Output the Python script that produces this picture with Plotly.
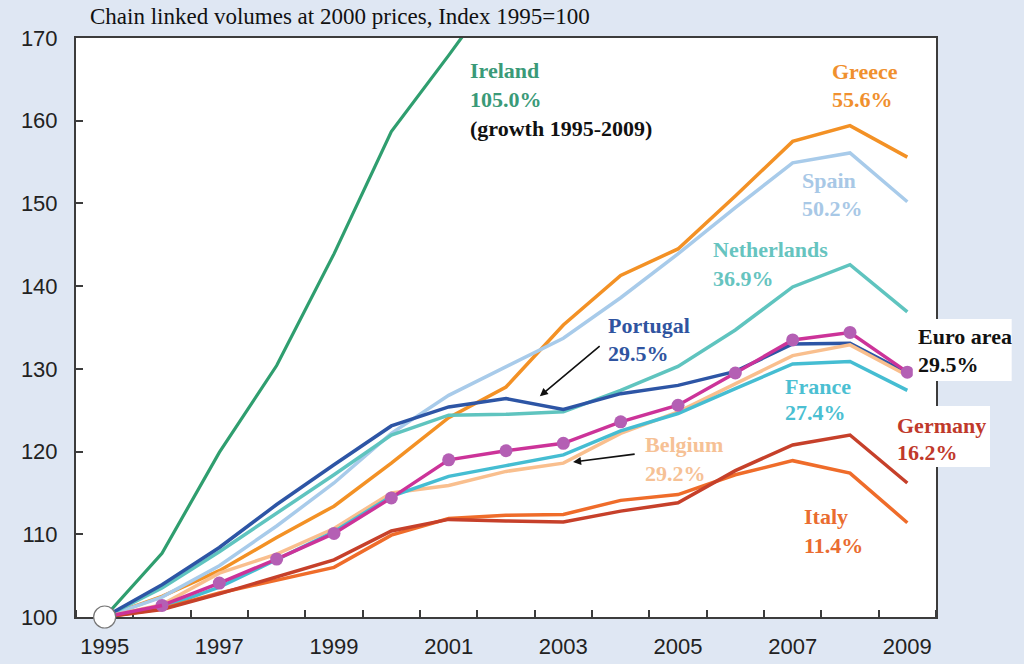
import plotly.graph_objects as go

years = list(range(1995, 2010))
ireland = [100, 107.7, 119.9, 130.4, 143.9, 158.7, 167.9, 177.4, 184.6, 192.6, 203.4, 214.6, 226.5, 218.2, 205.0]
greece = [100, 102.5, 105.6, 109.6, 113.4, 118.6, 124.1, 127.8, 135.3, 141.3, 144.5, 150.9, 157.5, 159.4, 155.6]
spain = [100, 102.4, 106.2, 111.0, 116.2, 122.2, 126.8, 130.2, 133.7, 138.6, 143.9, 149.5, 154.9, 156.1, 150.2]
netherlands = [100, 103.5, 107.9, 112.5, 117.2, 122.0, 124.4, 124.5, 124.8, 127.4, 130.3, 134.7, 139.9, 142.6, 136.9]
portugal = [100, 103.9, 108.4, 113.6, 118.4, 123.1, 125.4, 126.4, 125.1, 127.0, 128.0, 129.7, 133.0, 133.1, 129.5]
belgium = [100, 101.5, 105.3, 107.6, 110.7, 115.0, 115.9, 117.6, 118.6, 122.2, 124.8, 128.2, 131.6, 132.9, 129.2]
france = [100, 101.1, 103.6, 106.9, 110.3, 114.6, 117.0, 118.3, 119.6, 122.5, 124.6, 127.6, 130.6, 130.9, 127.4]
italy = [100, 101.0, 102.9, 104.5, 106.0, 109.9, 111.9, 112.3, 112.4, 114.1, 114.8, 117.2, 118.9, 117.4, 111.4]
germany = [100, 100.9, 102.8, 104.8, 106.9, 110.4, 111.8, 111.6, 111.5, 112.8, 113.8, 117.7, 120.8, 122.0, 116.2]
euro_area = [100, 101.4, 104.1, 107.0, 110.1, 114.4, 119.0, 120.1, 121.0, 123.6, 125.6, 129.5, 133.5, 134.4, 129.6]

x_tick_years = [1995, 1997, 1999, 2001, 2003, 2005, 2007, 2009]
y_ticks = [100, 110, 120, 130, 140, 150, 160, 170]
title_text = "Chain linked volumes at 2000 prices, Index 1995=100"

series = [
    ("Ireland", ireland, "#2f9e6f", 3.2),
    ("Greece", greece, "#f39125", 3.5),
    ("Spain", spain, "#a8cbea", 3.5),
    ("Netherlands", netherlands, "#5fc4bf", 3.5),
    ("Portugal", portugal, "#2d55a5", 3.5),
    ("Belgium", belgium, "#f9bf8e", 3.5),
    ("France", france, "#45bdd2", 3.5),
    ("Italy", italy, "#ef6c2a", 3.5),
    ("Germany", germany, "#c6402a", 3.5),
]

fig = go.Figure()
for name, vals, col, w in series:
    fig.add_trace(go.Scatter(x=years, y=vals, mode="lines", name=name,
                             line=dict(color=col, width=w), showlegend=False))

fig.add_trace(go.Scatter(x=years[1:], y=euro_area[1:], mode="lines+markers", name="Euro area",
                         line=dict(color="#cc3399", width=3.5),
                         marker=dict(color="#b45fb4", size=13, line=dict(width=0)),
                         showlegend=False))
fig.add_trace(go.Scatter(x=years[:2], y=euro_area[:2], mode="lines",
                         line=dict(color="#cc3399", width=3.5), showlegend=False))
fig.add_trace(go.Scatter(x=[years[0]], y=[euro_area[0]], mode="markers", cliponaxis=False,
                         marker=dict(color="white", size=22, line=dict(color="#777777", width=1.2)),
                         showlegend=False))

LF = "Liberation Serif"
def lab(x, y, text, color, size=22):
    fig.add_annotation(x=x, y=y, xref="x", yref="y", text=text, showarrow=False,
                       xanchor="left", yanchor="middle",
                       font=dict(family=LF, size=size, color=color, weight="bold"))

lab(2001.34, 166.1, "Ireland", "#3a9a78")
lab(2001.34, 162.6, "105.0%", "#3a9a78")
lab(2001.34, 159.1, "(growth 1995-2009)", "#111111")
lab(2007.65, 166.0, "Greece", "#f0902e")
lab(2007.65, 162.6, "55.6%", "#f0902e")
lab(2007.13, 152.8, "Spain", "#a8c8e6")
lab(2007.13, 149.4, "50.2%", "#a8c8e6")
lab(2005.57, 144.4, "Netherlands", "#66c4bf")
lab(2005.57, 140.9, "36.9%", "#66c4bf")
lab(2003.74, 135.2, "Portugal", "#2f54a0")
lab(2003.74, 131.8, "29.5%", "#2f54a0")
lab(2006.83, 127.9, "France", "#4bbfd2")
lab(2006.83, 124.7, "27.4%", "#4bbfd2")
lab(2004.39, 120.8, "Belgium", "#f6c195")
lab(2004.39, 117.4, "29.2%", "#f6c195")
lab(2007.16, 112.2, "Italy", "#ea6c30")
lab(2007.16, 108.7, "11.4%", "#ea6c30")

# white boxes behind the right-hand labels
fig.add_shape(type="rect", xref="paper", yref="paper", x0=0.973, x1=1.088, y0=0.4076, y1=0.5147,
              fillcolor="white", line=dict(width=0), layer="above")
fig.add_shape(type="rect", xref="paper", yref="paper", x0=0.9477, x1=1.0628, y0=0.259, y1=0.3644,
              fillcolor="white", line=dict(width=0), layer="above")
lab(2009.15, 133.9, "Euro area", "#111111")
lab(2009.15, 130.5, "29.5%", "#111111")
lab(2008.78, 123.2, "Germany", "#c0392b")
lab(2008.78, 119.9, "16.2%", "#c0392b")

# arrows
fig.add_annotation(x=2002.59, y=126.7, ax=2003.66, ay=132.9, xref="x", yref="y", axref="x", ayref="y",
                   text="", showarrow=True, arrowhead=2, arrowsize=1, arrowwidth=1.6, arrowcolor="#111111")
fig.add_annotation(x=2003.17, y=118.74, ax=2004.27, ay=119.71, xref="x", yref="y", axref="x", ayref="y",
                   text="", showarrow=True, arrowhead=2, arrowsize=1, arrowwidth=1.6, arrowcolor="#111111")

fig.add_annotation(xref="paper", yref="paper", x=(88 - 76) / 860, y=1 + (38 - 16) / 579,
                   text=title_text, showarrow=False, xanchor="left", yanchor="middle",
                   font=dict(family=LF, size=23, color="#111111"))

axis_col = "#3c3c3c"
fig.update_xaxes(range=[1994.5, 2009.5], tickmode="array", tickvals=x_tick_years,
                 ticktext=[str(v) for v in x_tick_years], ticks="", automargin=False,
                 showline=True, mirror=True, linecolor=axis_col, linewidth=2,
                 showgrid=False, zeroline=False, layer="below traces",
                 tickfont=dict(family="Liberation Sans", size=22, color="#222222"),
                 ticklabelstandoff=9,
                 minor=dict(tickmode="linear", tick0=1995.5, dtick=1, ticks="inside",
                            ticklen=7, tickwidth=1.5, tickcolor=axis_col, showgrid=False))
fig.update_yaxes(range=[100, 170], tickmode="array", tickvals=y_ticks, ticks="inside",
                 ticklen=7, tickwidth=1.5, tickcolor=axis_col, automargin=False,
                 showline=True, mirror=True, linecolor=axis_col, linewidth=2,
                 showgrid=False, zeroline=False, layer="below traces",
                 tickfont=dict(family="Liberation Sans", size=22, color="#222222"),
                 ticklabelstandoff=12)

fig.update_layout(width=1024, height=664, margin=dict(l=76, r=88, t=38, b=47, autoexpand=False),
                  paper_bgcolor="#dfe7f3", plot_bgcolor="white", showlegend=False)

fig.write_html("out.html", config={"displayModeBar": False},
               post_script="document.body.style.margin='0';document.body.style.overflow='hidden';")
